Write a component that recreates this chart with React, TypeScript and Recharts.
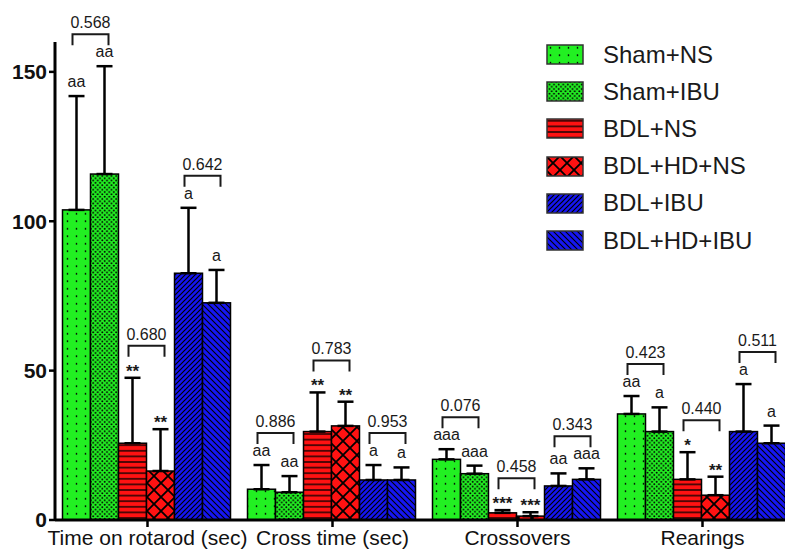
import React from 'react';
import { BarChart, Bar, XAxis, YAxis, ErrorBar, Legend } from 'recharts';

const FONT = '"Liberation Sans", Arial, Helvetica, sans-serif';
const GREEN = '#22f022';
const RED = '#ff1212';
const BLUE = '#1616f2';

const categories = ['Time on rotarod (sec)', 'Cross time (sec)', 'Crossovers', 'Rearings'];
const seriesNames = ['Sham+NS', 'Sham+IBU', 'BDL+NS', 'BDL+HD+NS', 'BDL+IBU', 'BDL+HD+IBU'];

const shamNS = [103.8, 10.3, 20.3, 35.5];
const shamIBU = [115.8, 9.3, 15.5, 29.6];
const bdlNS = [25.7, 29.6, 2.4, 13.6];
const bdlHdNS = [16.4, 31.5, 1.3, 8.3];
const bdlIBU = [82.6, 13.4, 11.4, 29.6];
const bdlHdIBU = [72.7, 13.4, 13.6, 25.7];

const shamNSErr = [38.1, 8.1, 3.4, 6.0];
const shamIBUErr = [36.1, 5.4, 2.7, 8.1];
const bdlNSErr = [21.9, 13.1, 0.9, 9.1];
const bdlHdNSErr = [14.0, 8.1, 1.3, 6.2];
const bdlIBUErr = [21.9, 5.0, 4.2, 15.9];
const bdlHdIBUErr = [11.0, 4.2, 3.7, 5.9];

const shamNSSig = ['aa', 'aa', 'aaa', 'aa'];
const shamIBUSig = ['aa', 'aa', 'aaa', 'a'];
const bdlNSSig = ['**', '**', '***', '*'];
const bdlHdNSSig = ['**', '**', '***', '**'];
const bdlIBUSig = ['a', 'a', 'aa', 'a'];
const bdlHdIBUSig = ['a', 'a', 'aaa', 'a'];

const pShamPair = ['0.568', '0.886', '0.076', '0.423'];
const pBdlPair = ['0.680', '0.783', '0.458', '0.440'];
const pIbuPair = ['0.642', '0.953', '0.343', '0.511'];

const yTicks = [0, 50, 100, 150];

const values = [shamNS, shamIBU, bdlNS, bdlHdNS, bdlIBU, bdlHdIBU];
const errors = [shamNSErr, shamIBUErr, bdlNSErr, bdlHdNSErr, bdlIBUErr, bdlHdIBUErr];
const sigs = [shamNSSig, shamIBUSig, bdlNSSig, bdlHdNSSig, bdlIBUSig, bdlHdIBUSig];
const pairP = [pShamPair, pBdlPair, pIbuPair];

const data = categories.map((cat, ci) => {
  const row: any = { cat };
  values.forEach((arr, si) => {
    row[`s${si}`] = arr[ci];
    row[`e${si}`] = errors[si][ci];
    row[`g${si}`] = sigs[si][ci];
  });
  pairP.forEach((arr, pi) => {
    row[`p${pi}`] = arr[ci];
  });
  return row;
});

const makeShape = (si: number) => (props: any) => {
  const { x, y, width, height, payload } = props;
  const v = payload[`s${si}`];
  const e = payload[`e${si}`];
  const k = v > 0 ? height / v : 0;
  const base = y + height;
  const capY = base - (v + e) * k;
  const sig: string = payload[`g${si}`];
  const star = sig.indexOf('*') >= 0;
  const els: any[] = [
    <rect key="r" x={x} y={y} width={width} height={height} fill={`url(#pat${si})`} stroke="#000" strokeWidth={1.5} />,
    <text
      key="s"
      x={x + width / 2}
      y={star ? capY - 1 : capY - 9}
      textAnchor="middle"
      fontSize={star ? 17 : 16}
      fontWeight={star ? 'bold' : 'normal'}
      fontFamily={FONT}
      fill="#1a1a1a"
    >
      {sig}
    </text>,
  ];
  if (si % 2 === 1) {
    const pv = payload[`s${si - 1}`];
    const pe = payload[`e${si - 1}`];
    const top = Math.max(v + e, pv + pe);
    const legY = base - top * k - 21;
    const barY = legY - 11;
    const cx = x;
    els.push(
      <path
        key="b"
        d={`M${cx - 18},${legY} L${cx - 18},${barY} L${cx + 18},${barY} L${cx + 18},${legY}`}
        fill="none"
        stroke="#1a1a1a"
        strokeWidth={2}
      />,
      <text key="p" x={cx} y={barY - 6} textAnchor="middle" fontSize={16} fontFamily={FONT} fill="#1a1a1a">
        {payload[`p${(si - 1) / 2}`]}
      </text>
    );
  }
  return <g>{els}</g>;
};

const CatTick = (props: any) => {
  const { x, y, payload } = props;
  return (
    <text x={x} y={y} dy={15.5} textAnchor="middle" fontSize={21} fontFamily={FONT} fill="#111">
      {payload.value}
    </text>
  );
};

const renderLegend = () => (
  <div style={{ fontFamily: FONT }}>
    {seriesNames.map((n, i) => (
      <div key={n} style={{ display: 'flex', alignItems: 'center', height: 37.2 }}>
        <svg width={38} height={21} style={{ display: 'block' }}>
          <rect x={1} y={1} width={36} height={19} fill={`url(#pat${i})`} stroke="#333" strokeWidth={1.5} />
        </svg>
        <span style={{ marginLeft: 19, fontSize: 24, color: '#1a1a1a', lineHeight: '28px', whiteSpace: 'nowrap' }}>{n}</span>
      </div>
    ))}
  </div>
);

export default function App() {
  return (
    <div style={{ position: 'fixed', left: 0, top: 0, width: 785, height: 550, overflow: 'hidden', background: '#fff' }}>
      <BarChart
        width={800}
        height={550}
        data={data}
        margin={{ top: 42, right: 5, bottom: 0, left: 0 }}
        barCategoryGap={7.5}
        barGap={0}
        style={{ fontFamily: FONT }}
      >
        <defs>
          <pattern id="pat0" patternUnits="userSpaceOnUse" width="9" height="7.5">
            <rect width="9" height="7.5" fill={GREEN} />
            <circle cx="4.5" cy="3.75" r="0.85" fill="#000" />
          </pattern>
          <pattern id="pat1" patternUnits="userSpaceOnUse" width="4.6" height="4.6">
            <rect width="4.6" height="4.6" fill={GREEN} />
            <circle cx="1.15" cy="1.15" r="1.0" fill="#000" />
            <circle cx="3.45" cy="3.45" r="1.0" fill="#000" />
          </pattern>
          <pattern id="pat2" patternUnits="userSpaceOnUse" width="6" height="5.6">
            <rect width="6" height="5.6" fill={RED} />
            <line x1="0" y1="2.8" x2="6" y2="2.8" stroke="#000" strokeWidth="1.3" />
          </pattern>
          <pattern id="pat3" patternUnits="userSpaceOnUse" width="14" height="14">
            <rect width="14" height="14" fill={RED} />
            <path d="M0,0 L14,14 M14,0 L0,14" stroke="#000" strokeWidth="1.8" />
          </pattern>
          <pattern id="pat4" patternUnits="userSpaceOnUse" width="5" height="5">
            <rect width="5" height="5" fill={BLUE} />
            <path d="M0,5 L5,0 M-1,1 L1,-1 M4,6 L6,4" stroke="#000" strokeWidth="1.2" />
          </pattern>
          <pattern id="pat5" patternUnits="userSpaceOnUse" width="6" height="6">
            <rect width="6" height="6" fill={BLUE} />
            <path d="M0,0 L6,6 M-1,5 L1,7 M5,-1 L7,1" stroke="#000" strokeWidth="1.1" />
          </pattern>
        </defs>
        <XAxis
          dataKey="cat"
          height={30}
          tickSize={7}
          interval={0}
          axisLine={{ stroke: '#000', strokeWidth: 3 }}
          tickLine={{ stroke: '#000', strokeWidth: 2.5 }}
          tick={<CatTick />}
        />
        <YAxis
          domain={[0, 160]}
          ticks={yTicks}
          interval={0}
          width={55}
          tickSize={6}
          axisLine={{ stroke: '#000', strokeWidth: 3 }}
          tickLine={{ stroke: '#000', strokeWidth: 2.5 }}
          tick={{ fill: '#111', fontSize: 21, fontWeight: 'bold', fontFamily: FONT }}
        />
        <Legend
          layout="vertical"
          align="center"
          verticalAlign="middle"
          content={renderLegend}
          wrapperStyle={{ left: 546, top: 36, width: 235, height: 224 }}
        />
        {seriesNames.map((n, si) => (
          <Bar
            key={n}
            dataKey={`s${si}`}
            name={n}
            fill={`url(#pat${si})`}
            isAnimationActive={false}
            shape={makeShape(si)}
          >
            <ErrorBar
              dataKey={(d: any) => [0, d[`e${si}`]]}
              direction="y"
              width={8}
              stroke="#000"
              strokeWidth={2.5}
              isAnimationActive={false}
            />
          </Bar>
        ))}
      </BarChart>
    </div>
  );
}
